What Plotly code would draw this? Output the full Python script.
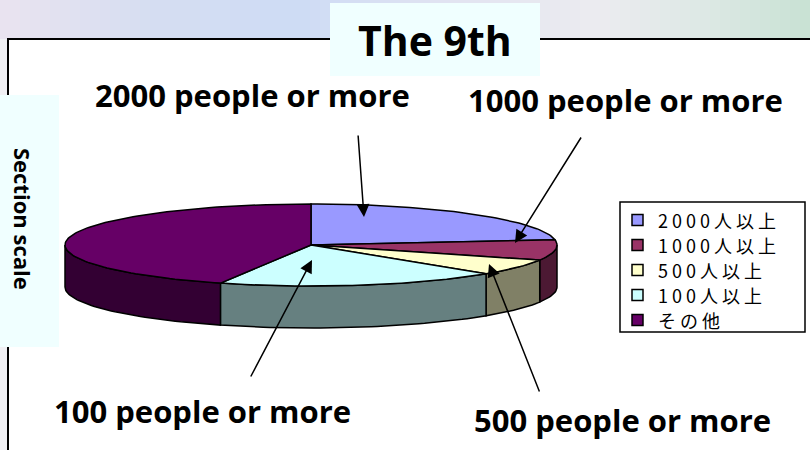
import math
import plotly.graph_objects as go

# ---- data ----
categories = ["2000人以上", "1000人以上", "500人以上", "100人以上", "その他"]
values = [23.0, 8.0, 6.4, 18.6, 44.0]
top_colors = ["#9999FF", "#993366", "#FFFFCC", "#CCFFFF", "#660066"]
side_colors = ["#4C4C80", "#4C1933", "#808066", "#668080", "#330033"]
callout_labels = ["2000 people or more", "1000 people or more", "500 people or more", "100 people or more"]
title_text = "The 9th"
side_title = "Section scale"

# ---- geometry (layout) ----
W, H = 810, 450
cx, cy, rx, ry, depth = 311, 245, 246, 41, 42


def pt(theta_deg, dy=0.0):
    t = math.radians(theta_deg)
    return cx + rx * math.sin(t), cy - ry * math.cos(t) + dy


def arc(a, b, dy=0.0, n=None):
    if n is None:
        n = max(2, int(abs(b - a) / 1.5) + 2)
    xs, ys = [], []
    for i in range(n):
        t = a + (b - a) * i / (n - 1)
        x, y = pt(t, dy)
        xs.append(x)
        ys.append(y)
    return xs, ys


fig = go.Figure()

total = sum(values)
angles = []
acc = 0.0
for v in values:
    a = acc / total * 360
    acc += v
    b = acc / total * 360
    angles.append((a, b))

# side faces (front rim only)
for (a, b), sc in zip(angles, side_colors):
    s, e = max(a, 90), min(b, 270)
    if s >= e:
        continue
    tx, ty = arc(s, e)
    bx, by = arc(e, s, depth)
    fig.add_trace(go.Scatter(x=tx + bx + [tx[0]], y=ty + by + [ty[0]], mode="lines",
                             fill="toself", fillcolor=sc,
                             line=dict(color="black", width=1.5),
                             hoverinfo="skip", showlegend=False))

# top faces
for (a, b), tc, name, v in zip(angles, top_colors, categories, values):
    ax_, ay_ = arc(a, b)
    xs = [cx] + ax_ + [cx]
    ys = [cy] + ay_ + [cy]
    fig.add_trace(go.Scatter(x=xs, y=ys, mode="lines", fill="toself", fillcolor=tc,
                             line=dict(color="black", width=1.5), name=name,
                             hovertemplate=f"{name}: {v}<extra></extra>", showlegend=False))

shapes = []
# background gradient strip on top
stops = [(0, (234, 228, 240)), (150, (214, 222, 242)), (300, (206, 220, 245)),
         (450, (226, 228, 242)), (600, (236, 236, 240)), (700, (222, 233, 230)), (810, (200, 226, 212))]


def col_at(x):
    for (x0, c0), (x1, c1) in zip(stops[:-1], stops[1:]):
        if x0 <= x <= x1:
            f = (x - x0) / (x1 - x0)
            return tuple(int(c0[k] + (c1[k] - c0[k]) * f) for k in range(3))
    return stops[-1][1]


step = 10
for x0 in range(0, W, step):
    c = col_at(x0 + step / 2)
    shapes.append(dict(type="rect", xref="x", yref="y", x0=x0, x1=x0 + step, y0=0, y1=39,
                       fillcolor=f"rgb{c}", line=dict(width=0), layer="below"))
shapes.append(dict(type="rect", xref="x", yref="y", x0=0, x1=8, y0=39, y1=H,
                   fillcolor="rgb(240,240,244)", line=dict(width=0), layer="below"))
# chart frame
shapes.append(dict(type="path", xref="x", yref="y", path=f"M 8 {H} L 8 39 L {W} 39",
                   line=dict(color="black", width=2)))
# title box and side title box
shapes.append(dict(type="rect", xref="x", yref="y", x0=330, x1=540, y0=3, y1=76,
                   fillcolor="#F0FFFF", line=dict(width=0)))
shapes.append(dict(type="rect", xref="x", yref="y", x0=0, x1=59, y0=95, y1=347,
                   fillcolor="#F0FFFF", line=dict(width=0)))
# legend box
lx0, lx1, ly0, ly1 = 620, 805, 202, 332
shapes.append(dict(type="rect", xref="x", yref="y", x0=lx0, x1=lx1, y0=ly0, y1=ly1,
                   fillcolor="white", line=dict(color="black", width=1.5)))

annotations = []
row_h = 25
for i, (name, tc) in enumerate(zip(categories, top_colors)):
    yc = 220 + i * row_h
    shapes.append(dict(type="rect", xref="x", yref="y", x0=632, x1=643, y0=yc - 5.5, y1=yc + 5.5,
                       fillcolor=tc, line=dict(color="black", width=1.5)))
    annotations.append(dict(x=656, y=yc, xref="x", yref="y", text=name, showarrow=False,
                            xanchor="left", yanchor="middle",
                            font=dict(family="Noto Sans CJK JP", size=18, color="black")))

annotations.append(dict(x=435, y=40, xref="x", yref="y", text=f"<b>{title_text}</b>", showarrow=False,
                        font=dict(family="Open Sans", size=41, color="black")))
annotations.append(dict(x=23, y=219, xref="x", yref="y", text=f"<b>{side_title}</b>", showarrow=False,
                        textangle=90, font=dict(family="Open Sans", size=22, color="black")))

# callouts: label centre, arrow tail, arrow head
label_pos = [(252, 95), (625, 100), (622, 420), (202, 411)]
arrow_tail = [(358, 134), (582, 136), (540, 393), (250, 378)]
arrow_head = [(364, 217), (515, 243), (489, 264), (312, 260)]
for lab, (lxp, lyp), (tx, ty), (hx, hy) in zip(callout_labels, label_pos, arrow_tail, arrow_head):
    annotations.append(dict(x=lxp, y=lyp, xref="x", yref="y", text=f"<b>{lab}</b>", showarrow=False,
                            font=dict(family="Open Sans", size=31, color="black")))
    annotations.append(dict(x=hx, y=hy, ax=tx, ay=ty, xref="x", yref="y", axref="x", ayref="y",
                            text="", showarrow=True, arrowhead=2, arrowsize=1.7, arrowwidth=1.5,
                            arrowcolor="black"))

fig.update_layout(
    width=W, height=H, margin=dict(l=0, r=0, t=0, b=0),
    paper_bgcolor="white", plot_bgcolor="white",
    xaxis=dict(range=[0, W], visible=False, fixedrange=True),
    yaxis=dict(range=[H, 0], visible=False, fixedrange=True),
    shapes=shapes, annotations=annotations, showlegend=False,
)

post = """
document.body.style.margin = '0px';
document.querySelectorAll('.annotation-text').forEach(function (t) {
  if (/[人他]/.test(t.textContent)) {
    var bb = t.getBBox();
    t.setAttribute('text-anchor', 'start');
    t.setAttribute('x', bb.x);
    t.style.letterSpacing = '4px';
  }
});
"""

fig.write_html("out.html", post_script=post, config={"displayModeBar": False})
